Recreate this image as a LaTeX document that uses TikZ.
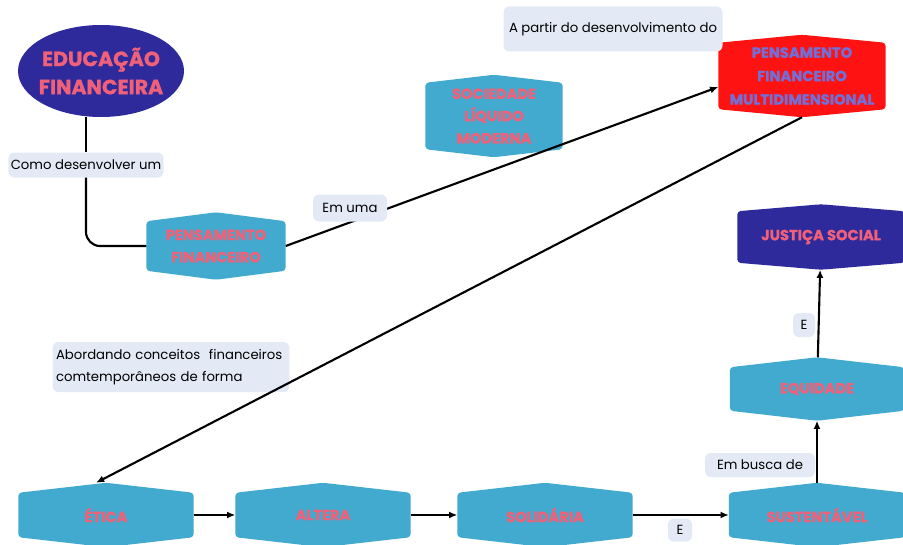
\documentclass[tikz,border=0pt]{standalone}
\usepackage{fontspec}
\setmainfont{Poppins}[BoldFeatures={FakeBold=1.3}]
\usetikzlibrary{arrows.meta,shapes.geometric,backgrounds}
\definecolor{boxblue}{HTML}{42AACE}
\definecolor{boxpink}{HTML}{F06078}
\definecolor{deepblue}{HTML}{2E2A9C}
\definecolor{pfmred}{HTML}{FF1212}
\definecolor{pfmtext}{HTML}{7070D8}
\definecolor{lblfill}{HTML}{E3EAF6}
\tikzset{
  hexbox/.style={inner sep=0pt,align=center,text=boxpink,
    font=\fontsize{12.5}{19}\selectfont\bfseries},
  lbl/.style={rounded corners=5pt,fill=lblfill,inner sep=0pt,
    font=\fontsize{11.3}{18.5}\selectfont},
  conn/.style={line width=1.8pt},
  arr/.style={line width=1.8pt,-{Latex[length=7pt,width=6pt]}}
}
% hexagon with a peak on top and bottom, filled behind a node
\newcommand{\hexfill}[3]{%
  \fill[#2,rounded corners=3pt] ([yshift=-#3]#1.north west) -- (#1.north)
    -- ([yshift=-#3]#1.north east) -- ([yshift=#3]#1.south east)
    -- (#1.south) -- ([yshift=#3]#1.south west) -- cycle;}

\begin{document}
\begin{tikzpicture}[x=0.3mm,y=-0.3mm]
\useasboundingbox (0,0) rectangle (903,545);

% Start
\node[ellipse,fill=deepblue,inner xsep=-2mm,inner ysep=0pt,minimum width=49.8mm,minimum height=27.6mm,
  align=center,text=boxpink,font=\fontsize{17.5}{24}\selectfont\bfseries]
  (EF) at (101,71) {EDUCAÇÃO\\FINANCEIRA};

% Boxes in the upper part
\node[hexbox,minimum width=41.7mm,minimum height=20.1mm] (PF) at (216,246) {PENSAMENTO\\FINANCEIRO};
\node[hexbox,minimum width=41.1mm,minimum height=24.6mm] (SLM) at (494,116) {SOCIEDADE\\LÍQUIDO\\MODERNA};
\node[hexbox,minimum width=50.1mm,minimum height=24.6mm,text=pfmtext,
  font=\fontsize{12.5}{20}\selectfont\bfseries] (PFM) at (802,76) {PENSAMENTO\\FINANCEIRO\\MULTIDIMENSIONAL};

% Row of values at the bottom
\node[hexbox,minimum width=52.5mm,minimum height=19.2mm] (ETICA) at (106,515) {ÉTICA};
\node[hexbox,minimum width=52.5mm,minimum height=19.2mm] (ALTERA) at (323,515) {ALTERA};
\node[hexbox,minimum width=52.5mm,minimum height=19.2mm] (SOL) at (545,515) {SOLIDÁRIA};
\node[hexbox,minimum width=52.8mm,minimum height=19.2mm] (ST) at (817,515) {SUSTENTÁVEL};

% Right column
\node[hexbox,minimum width=52.2mm,minimum height=18.9mm] (EQ) at (817,389) {EQUIDADE};
\node[hexbox,minimum width=50.1mm,minimum height=19.5mm] (JS) at (821,237) {JUSTIÇA SOCIAL};

\begin{scope}[on background layer]
\foreach \n/\c/\p in {PF/boxblue/2.7mm,SLM/boxblue/2.4mm,PFM/pfmred/2.4mm,
  ETICA/boxblue/3mm,ALTERA/boxblue/3mm,SOL/boxblue/3mm,ST/boxblue/3mm,
  EQ/boxblue/3mm,JS/deepblue/2.1mm}
{
  \hexfill{\n}{\c}{\p}
}
\end{scope}

% Labels
\node[lbl,minimum width=46.5mm,minimum height=7.5mm] (como) at (86,165) {Como desenvolver um};
\node[lbl,minimum width=65.7mm,minimum height=13.5mm] (apartir) at (613,29) {A partir do desenvolvimento do};
\node[lbl,minimum height=15mm,text width=69mm,align=left,inner xsep=1mm]
  (abord) at (171,367) {Abordando conceitos\ \ financeiros\\comtemporâneos de forma};
\node[lbl,minimum width=33mm,minimum height=7.2mm] (ebusca) at (760,465) {Em busca de};
\node[lbl,minimum width=6.6mm,minimum height=7.2mm] (e1) at (804,325) {E};
\node[lbl,minimum width=7.2mm,minimum height=6.9mm] (e2) at (680,530) {E};

% Connectors
\draw[conn] (como) -- (como |- EF.south);
\draw[conn,rounded corners=12pt] (como) |- (PF);
\draw[arr] (PF.east) -- ([yshift=-3.3mm]PFM.west);
\draw[arr] (PFM.south) -- ([xshift=-3mm]ETICA.north);
\draw[arr] (ETICA) -- (ALTERA);
\draw[arr] (ALTERA) -- (SOL);
\draw[arr] (SOL) -- (ST);
\draw[arr] (ST) -- (EQ);
\draw[arr] (EQ) -- (JS);

% Label sitting on the rising line
\node[lbl,minimum width=22.2mm,minimum height=8.1mm] (emuma) at (350,208) {Em uma};

\end{tikzpicture}
\end{document}
